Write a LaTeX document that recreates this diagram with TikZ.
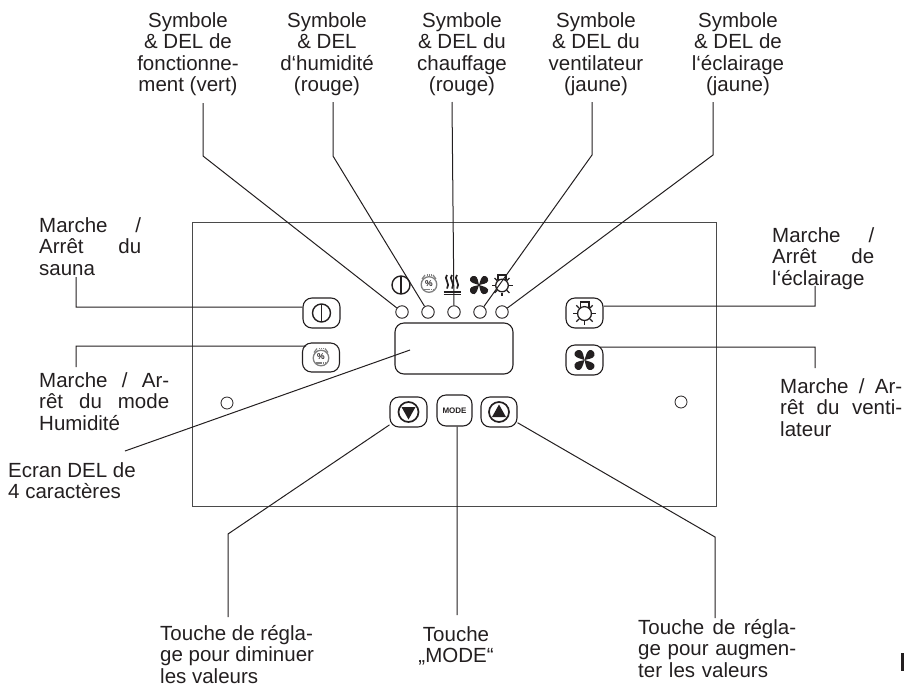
\documentclass[tikz,border=0pt]{standalone}
\usepackage{fontspec}
\setmainfont{Liberation Sans}
\usepackage{xcolor}
\usetikzlibrary{positioning}
\definecolor{inkDark}{HTML}{231f20}
\definecolor{panelGray}{HTML}{4a4a4a}
\tikzset{
    label/.style={text=inkDark, inner sep=0, font=\fontsize{20.5}{21.6}\selectfont},
    led/.style={circle, draw=inkDark, line width=0.9pt, minimum size=12.5pt, inner sep=0},
    key/.style={rectangle, rounded corners=9pt, draw=inkDark, line width=1.1pt, inner sep=0, minimum width=37pt, minimum height=30pt},
    wire/.style={draw=inkDark, line width=1pt},
    symPower/.pic={
        \draw[inkDark, line width=1.4pt] (0,0) circle (9);
        \draw[inkDark, line width=1.4pt] (0,-9) -- (0,9);
    },
    symHumid/.pic={
        \draw[gray, line width=1.3pt] (0,0.5) circle (7.8);
        \draw[gray, line width=1.2pt] (-7,-5) -- (-4,-9) (7,-5) -- (4,-9);
        \draw[gray, line width=1.2pt, dash pattern=on 1pt off 1pt] (-2.5,-9) -- (2.5,-9);
        \node[text=inkDark, inner sep=0, font=\fontsize{8.5}{9}\bfseries\selectfont] (pct) at (0,-0.5) {\%};
        \draw[gray, line width=1.3pt, dash pattern=on 1.5pt off 0.7pt] (-5,5.5) -- (5,5.5);
    },
    symHeat/.pic={
        \foreach \xa in {-5,0,5} {
            \draw[inkDark, line width=1.7pt] (\xa,-10) .. controls (\xa-4,-7) and (\xa+4,-1) .. (\xa,3.5);
        }
        \draw[inkDark, line width=2pt] (-8.5,6.5) -- (8.5,6.5);
        \draw[inkDark, line width=1.3pt] (-8.5,9.5) -- (8.5,9.5);
    },
    symFan/.pic={
        \foreach \ang in {0,90,180,270} {
            \fill[inkDark, rotate=\ang] (0,0) .. controls (-1,-3) and (-1,-8) .. (-4,-9) .. controls (-7,-9.8) and (-9.8,-7) .. (-9,-4.5) .. controls (-8,-2) and (-3,-1) .. (0,0) -- cycle;
        }
    },
    symBulb/.pic={
        \draw[inkDark, line width=1.3pt] (0,0.5) circle (6.3);
        \draw[inkDark, line width=1.2pt] (-4,-5) -- (-4,-10) -- (4,-10) -- (4,-5);
        \foreach \ang in {0,45,135,180,225,270,315} {
            \draw[inkDark, line width=1.3pt, shift={(0,0.5)}, rotate=\ang] (7,0) -- (10.5,0);
        }
    },
    symDown/.pic={
        \draw[inkDark, line width=1.7pt] (0,0) circle (10);
        \fill[inkDark] (-7,-5) -- (7,-5) -- (0,7.5) -- cycle;
    },
    symUp/.pic={
        \draw[inkDark, line width=1.7pt] (0,0) circle (10);
        \fill[inkDark] (-7,5) -- (7,5) -- (0,-7.5) -- cycle;
    }
}

\begin{document}
\begin{tikzpicture}[x=1pt, y=-1pt]
    \useasboundingbox (0,0) rectangle (904,683);

    % panel
    \draw[panelGray, line width=0.9pt] (192,222) rectangle (716,506);
    \node[circle, draw=inkDark, line width=0.8pt, minimum size=12pt, inner sep=0] (holeL) at (227,403) {};
    \node[circle, draw=inkDark, line width=0.8pt, minimum size=12pt, inner sep=0] (holeR) at (681,402) {};

    % leds
    \node[led] (ledA) at (402,312) {};
    \node[led, node distance=26pt] (ledB) [right of = ledA] {};
    \node[led, node distance=26pt] (ledC) [right of = ledB] {};
    \node[led, node distance=26pt] (ledD) [right of = ledC] {};
    \node[led, node distance=26pt] (ledE) [right of = ledD, xshift = -4] {};

    % display
    \node[rectangle, rounded corners=9pt, draw=inkDark, line width=1.1pt, minimum width=118pt, minimum height=51pt, inner sep=0] (screen) at (454,348.5) {};

    % keys
    \node[key] (keyPower) at (321.5,313) {};
    \node[key, minimum height=29pt] (keyHumid) at (321,357.5) {};
    \node[key] (keyBulb) at (584.5,313) {};
    \node[key] (keyFan) at (584.5,360) {};
    \node[key, minimum height=30pt] (keyDown) at (408.5,412) {};
    \node[key, minimum width=35pt, minimum height=31pt] (keyMode) at (454.5,410.5) {\fontsize{8}{9}\bfseries\selectfont\textcolor{inkDark}{MODE}};
    \node[key, minimum width=36pt] (keyUp) at (499,412) {};

    % symbols
    \pic at (401,285) {symPower};
    \pic at (429,284) {symHumid};
    \pic at (452,285) {symHeat};
    \pic at (479,285) {symFan};
    \pic at (502,285) {symBulb};
    \pic at (keyPower) {symPower};
    \pic at (keyHumid) {symHumid};
    \pic[scale=1.1] at (keyBulb) {symBulb};
    \pic[scale=1.1] at (keyFan) {symFan};
    \pic at (keyDown) {symDown};
    \pic at (keyUp) {symUp};

    % labels on top
    \node[label, align=center, anchor=north] (txtA) at (188,12) {Symbole\\\& DEL de\\fonctionne-\\ment (vert)};
    \node[label, align=center, anchor=north] (txtB) at (327,12) {Symbole\\\& DEL\\d‘humidité\\(rouge)};
    \node[label, align=center, anchor=north] (txtC) at (462,12) {Symbole\\\& DEL du\\chauffage\\(rouge)};
    \node[label, align=center, anchor=north] (txtD) at (596,12) {Symbole\\\& DEL du\\ventilateur\\(jaune)};
    \node[label, align=center, anchor=north] (txtE) at (738,12) {Symbole\\\& DEL de\\l‘éclairage\\(jaune)};

    % labels on the sides
    \node[label, align=left, text width=102pt, anchor=north west] (txtF) at (39,217) {Marche\hfill/\\Arrêt\hfill du\\sauna};
    \node[label, align=left, text width=130pt, anchor=north west] (txtG) at (39,372) {Marche\hfill/\hfill Ar-\\rêt\hfill du\hfill mode\\Humidité};
    \node[label, align=left, anchor=north west] (txtH) at (8,462) {Ecran DEL de\\4 caractères};
    \node[label, align=left, text width=102pt, anchor=north west] (txtI) at (772,227) {Marche\hfill/\\Arrêt\hfill de\\l‘éclairage};
    \node[label, align=left, text width=122pt, anchor=north west] (txtJ) at (780,378) {Marche\hfill/\hfill Ar-\\rêt\hfill du\hfill venti-\\lateur};

    % labels below
    \node[label, align=left, anchor=north west] (txtK) at (160,625) {Touche de régla-\\ge pour diminuer\\les valeurs};
    \node[label, align=center, anchor=north] (txtL) at (456,626) {Touche\\„MODE“};
    \node[label, align=left, text width=158pt, anchor=north west] (txtM) at (638,619) {Touche\hfill de\hfill régla-\\ge\hfill pour\hfill augmen-\\ter les valeurs};

    % clipped mark at the page edge
    \fill[inkDark] (900.5,653) rectangle (904,671);

    % connector ends
    \coordinate (capA) at (203,103);
    \coordinate (bendA) at (203,156);
    \coordinate (capB) at (333,102);
    \coordinate (bendB) at (333,156);
    \coordinate (capC) at (452,102);
    \coordinate (capD) at (592,102);
    \coordinate (bendD) at (592,155);
    \coordinate (capE) at (713,102);
    \coordinate (bendE) at (713,155);
    \coordinate (capF) at (76,277);
    \coordinate (bendF) at (76,307);
    \coordinate (capG) at (76,367);
    \coordinate (bendG) at (76,346);
    \coordinate (tipG) at (306,346);
    \coordinate (capH) at (125,451);
    \coordinate (tipH) at (410,350);
    \coordinate (capI) at (815,286);
    \coordinate (bendI) at (815,306);
    \coordinate (capJ) at (815,368);
    \coordinate (bendJ) at (815,347);
    \coordinate (tipJ) at (600,347);
    \coordinate (capK) at (228,617);
    \coordinate (bendK) at (228,534);
    \coordinate (capL) at (457,615);
    \coordinate (capM) at (715,618);
    \coordinate (bendM) at (715,537);

    \path[wire]
        (capA) -- (bendA) -- (ledA)
        (capB) -- (bendB) -- (ledB)
        (capC) -- (ledC)
        (capD) -- (bendD) -- (ledD)
        (capE) -- (bendE) -- (ledE)

        (capF) -- (bendF) -- (bendF -| keyPower.west)
        (capG) -- (bendG) -- (tipG)
        (capH) -- (tipH)
        (capI) -- (bendI) -- (bendI -| keyBulb.east)
        (capJ) -- (bendJ) -- (tipJ)

        (capK) -- (bendK) -- (keyDown)
        (capL) -- (keyMode.south -| capL)
        (capM) -- (bendM) -- (keyUp)
    ;
\end{tikzpicture}
\end{document}
